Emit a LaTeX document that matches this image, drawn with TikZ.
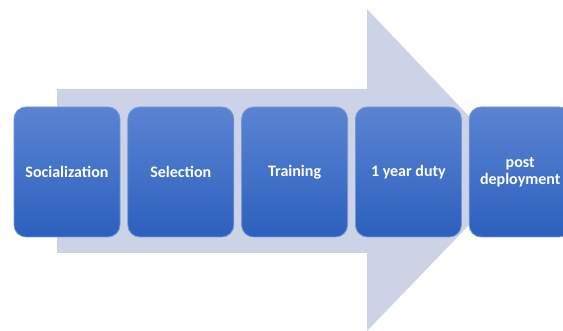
\documentclass[tikz,border=0pt]{standalone}
\usepackage{fontspec}
\newfontfamily\stagefont{Carlito}
\usepackage{tikz}
\usetikzlibrary{positioning}

\definecolor{arrowgray}{RGB}{205,211,230}
\definecolor{stagetop}{RGB}{90,132,210}
\definecolor{stagebot}{RGB}{44,96,190}
\definecolor{stageline}{RGB}{120,150,212}

\tikzset{
  stage/.style={rectangle, rounded corners=12pt, minimum width=106pt, minimum height=130pt,
    top color=stagetop, bottom color=stagebot, draw=stageline, line width=0.8pt,
    text=white, align=center, font=\stagefont\bfseries\fontsize{16}{17.5}\selectfont},
}

\begin{document}
\begin{tikzpicture}[x=1pt, y=1pt]
    \useasboundingbox (0,0) rectangle (563,331);
    \clip (0,0) rectangle (563,331);

    % Big pale arrow behind the stages
    \fill[arrowgray] (57,78) -- (57,242) -- (367,242) -- (367,322) -- (521,160)
        -- (367,0) -- (367,78) -- cycle;

    % Stages from left to right
    \node[stage] (social) at (67,159) {Socialization};
    \node[stage, right=7pt of social] (select) {Selection};
    \node[stage, right=7pt of select] (train) {Training};
    \node[stage, right=7pt of train] (duty) {1 year duty};
    \node[stage, right=7pt of duty, minimum width=102pt, inner sep=1pt] (post) {post\\deployment};
\end{tikzpicture}
\end{document}
